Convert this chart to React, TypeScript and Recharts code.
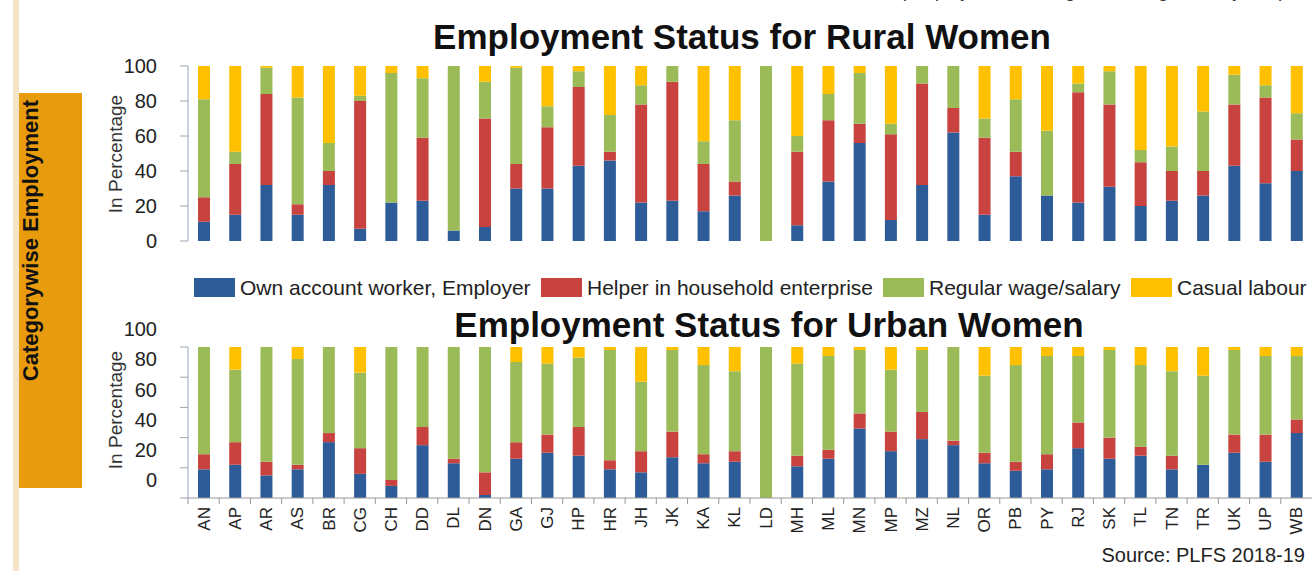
import React from 'react'
import { BarChart, Bar, XAxis, YAxis } from 'recharts'

const states = ['AN', 'AP', 'AR', 'AS', 'BR', 'CG', 'CH', 'DD', 'DL', 'DN', 'GA', 'GJ', 'HP', 'HR', 'JH', 'JK', 'KA', 'KL', 'LD', 'MH', 'ML', 'MN', 'MP', 'MZ', 'NL', 'OR', 'PB', 'PY', 'RJ', 'SK', 'TL', 'TN', 'TR', 'UK', 'UP', 'WB']

// rural women, % by status
const ruralOwn = [11, 15, 32, 15, 32, 7, 22, 23, 6, 8, 30, 30, 43, 46, 22, 23, 17, 26, 0, 9, 34, 56, 12, 32, 62, 15, 37, 26, 22, 31, 20, 23, 26, 43, 33, 40]
const ruralHelper = [14, 29, 52, 6, 8, 73, 0, 36, 0, 62, 14, 35, 45, 5, 56, 68, 27, 8, 0, 42, 35, 11, 49, 58, 14, 44, 14, 0, 63, 47, 25, 17, 14, 35, 49, 18]
const ruralRegular = [56, 7, 15, 61, 16, 3, 74, 34, 94, 21, 55, 12, 9, 21, 11, 9, 13, 35, 100, 9, 15, 29, 6, 10, 24, 11, 30, 37, 5, 19, 7, 14, 34, 17, 7, 15]
const ruralCasual = [19, 49, 1, 18, 44, 17, 4, 7, 0, 9, 1, 23, 3, 28, 11, 0, 43, 31, 0, 40, 16, 4, 33, 0, 0, 30, 19, 37, 10, 3, 48, 46, 26, 5, 11, 27]

// urban women, % by status
const urbanOwn = [19, 22, 15, 19, 37, 16, 8, 35, 23, 2, 26, 30, 28, 19, 17, 27, 23, 24, 0, 21, 26, 46, 31, 39, 35, 23, 18, 19, 33, 26, 28, 19, 22, 30, 24, 43]
const urbanHelper = [10, 15, 9, 3, 6, 17, 4, 12, 3, 15, 11, 12, 19, 6, 14, 17, 6, 7, 0, 7, 6, 10, 13, 18, 3, 7, 6, 10, 17, 14, 6, 9, 0, 12, 18, 9]
const urbanRegular = [71, 48, 76, 70, 57, 50, 88, 53, 74, 83, 53, 47, 46, 73, 46, 54, 59, 53, 100, 61, 62, 42, 41, 41, 62, 51, 64, 65, 44, 58, 54, 56, 59, 56, 52, 42]
const urbanCasual = [0, 15, 0, 8, 0, 17, 0, 0, 0, 0, 10, 11, 7, 2, 23, 2, 12, 16, 0, 11, 6, 2, 15, 2, 0, 19, 12, 6, 6, 2, 12, 16, 19, 2, 6, 6]

const yTicks = [0, 20, 40, 60, 80, 100]

const series = [
  { key: 'own', name: 'Own account worker, Employer', color: '#2E5C98' },
  { key: 'helper', name: 'Helper in household enterprise', color: '#C8423F' },
  { key: 'regular', name: 'Regular wage/salary', color: '#9BBB59' },
  { key: 'casual', name: 'Casual labour', color: '#FFC000' },
]

const ruralData = states.map((s, i) => ({
  state: s, own: ruralOwn[i], helper: ruralHelper[i], regular: ruralRegular[i], casual: ruralCasual[i],
}))
const urbanData = states.map((s, i) => ({
  state: s, own: urbanOwn[i], helper: urbanHelper[i], regular: urbanRegular[i], casual: urbanCasual[i],
}))

const FONT = '"Liberation Sans", Arial, sans-serif'
const W = 1312
const AXIS_W = 188
const BAND = (W - AXIS_W) / states.length
const AXIS_COLOR = '#9AA6B8'

const YTick = ({ x, y, payload, shift = 0 }: any) => (
  <text x={x} y={y + shift} dy="0.355em" textAnchor="end" fontSize={20} fill="#222" fontFamily={FONT}>
    {payload.value}
  </text>
)

const StateTick = ({ x, y, payload }: any) => (
  <g>
    <line x1={x - BAND / 2} x2={x - BAND / 2} y1={y} y2={y + 6} stroke="#999" />
    <text
      transform={`translate(${x + 6}, ${y + 9}) rotate(-90)`}
      textAnchor="end" fontSize={17} fill="#222" fontFamily={FONT}
    >
      {payload.value}
    </text>
  </g>
)

function Bars() {
  return series.map(s => (
    <Bar key={s.key} dataKey={s.key} name={s.name} stackId="a" fill={s.color} barSize={12} isAnimationActive={false} />
  ))
}

export default function App() {
  return (
    <div style={{ position: 'absolute', left: 0, top: 0, width: W, height: 571, background: '#fff', fontFamily: FONT, overflow: 'hidden' }}>
      <div style={{ position: 'absolute', left: 0, top: 0 }}>
        <BarChart width={W} height={262} data={ruralData} margin={{ top: 66, right: 0, bottom: 21, left: 0 }}>
          <XAxis dataKey="state" hide />
          <YAxis
            width={AXIS_W} domain={[0, 100]} ticks={yTicks} interval={0}
            tickSize={8} tickMargin={23}
            axisLine={{ stroke: AXIS_COLOR }} tickLine={{ stroke: AXIS_COLOR }}
            tick={<YTick />}
          />
          {Bars()}
        </BarChart>
      </div>

      <div style={{ position: 'absolute', left: 0, top: 300 }}>
        <BarChart width={W} height={250} data={urbanData} margin={{ top: 47, right: 0, bottom: 0, left: 0 }}>
          <XAxis
            dataKey="state" interval={0} height={52} tickSize={0} tickMargin={0}
            axisLine={{ stroke: '#999' }} tickLine={false} tick={<StateTick />}
          />
          <YAxis
            width={AXIS_W} domain={[0, 100]} ticks={yTicks} interval={0}
            tickSize={8} tickMargin={23}
            axisLine={{ stroke: AXIS_COLOR }} tickLine={{ stroke: AXIS_COLOR }}
            tick={<YTick shift={-18} />}
          />
          {Bars()}
        </BarChart>
      </div>

      <svg width={W} height={571} style={{ position: 'absolute', left: 0, top: 0, pointerEvents: 'none' }} fontFamily={FONT}>
        <rect x={13} y={0} width={6} height={571} fill="#F4E4C6" />
        <rect x={19} y={93} width={63} height={395} fill="#E89B0C" />
        <text transform="translate(38, 100) rotate(-90)" textAnchor="end" fontSize={22} fontWeight="bold" fill="#111">
          Categorywise Employment
        </text>

        <text x={1285} y={-3} textAnchor="end" fontSize={19} fill="#333">(Employment among women aged 15+ years)</text>

        <text x={742} y={49} textAnchor="middle" fontSize={35} fontWeight="bold" fill="#111">Employment Status for Rural Women</text>
        <text x={769} y={337} textAnchor="middle" fontSize={35} fontWeight="bold" fill="#111">Employment Status for Urban Women</text>

        <text transform="translate(122, 154) rotate(-90)" textAnchor="middle" fontSize={19} fill="#333">In Percentage</text>
        <text transform="translate(122, 410) rotate(-90)" textAnchor="middle" fontSize={19} fill="#333">In Percentage</text>

        {[194, 541, 883, 1131].map((sx, i) => (
          <g key={series[i].key}>
            <rect x={sx} y={278} width={41} height={19} fill={series[i].color} />
            <text x={sx + 46} y={295} fontSize={21} fill="#222">{series[i].name}</text>
          </g>
        ))}

        <text x={1305} y={562} textAnchor="end" fontSize={20} fill="#222">Source: PLFS 2018-19</text>
      </svg>
    </div>
  )
}
